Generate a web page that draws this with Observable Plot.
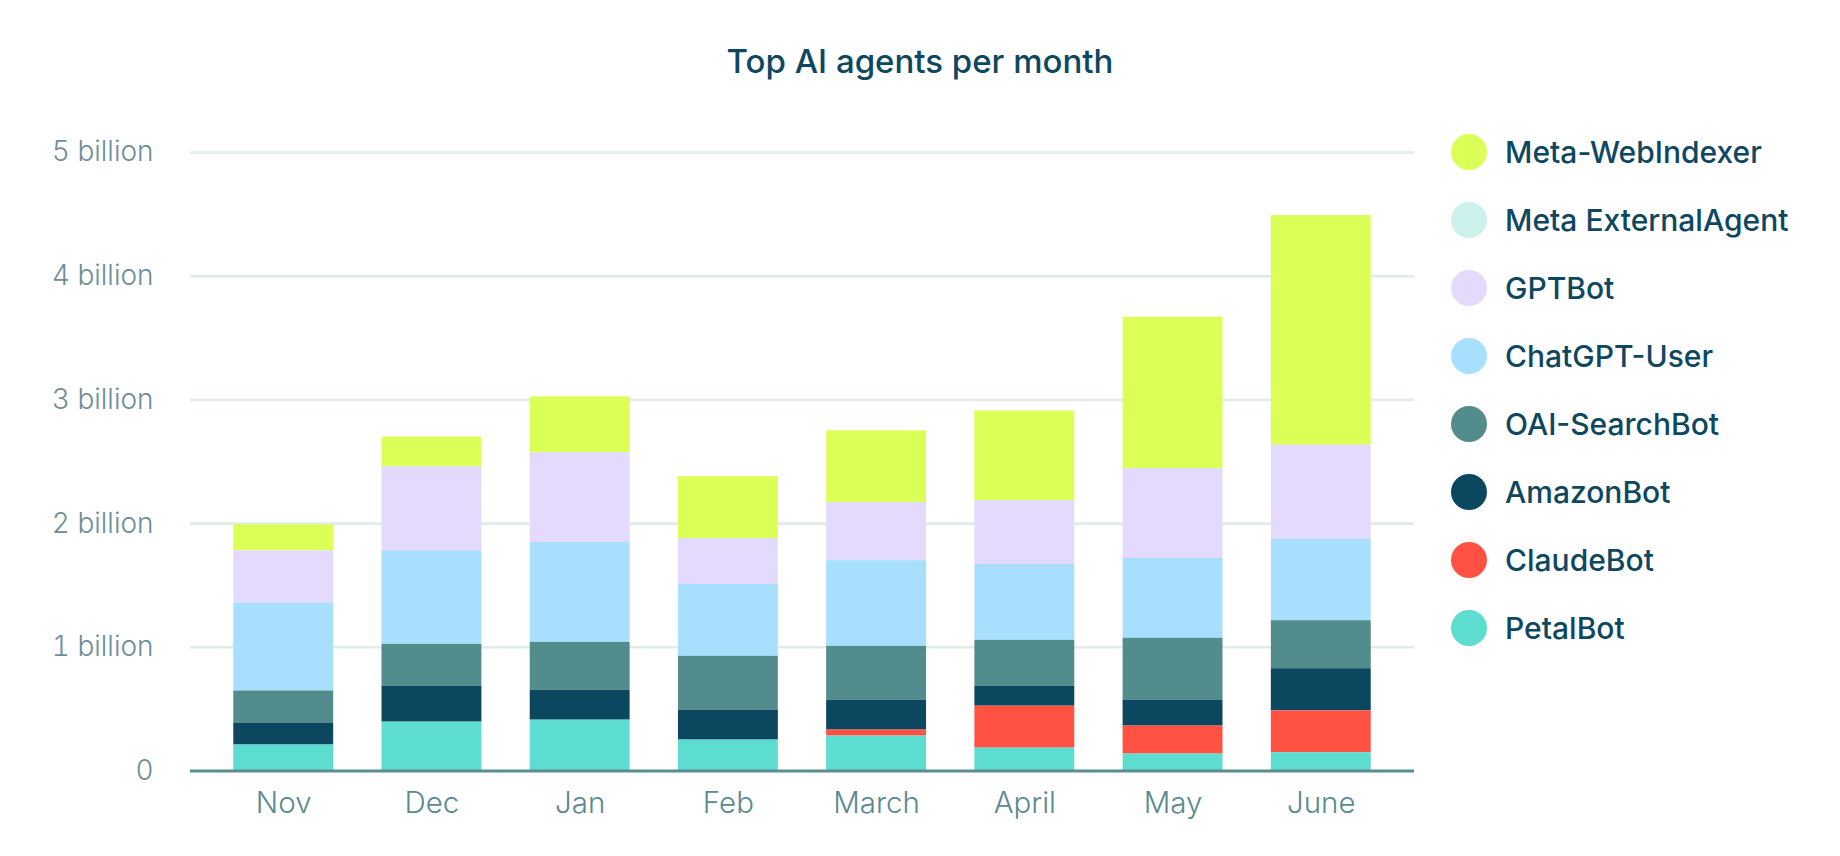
<!DOCTYPE html>
<html>
<head>
<meta charset="utf-8">
<script src="https://cdn.jsdelivr.net/npm/d3@7"></script>
<script src="https://cdn.jsdelivr.net/npm/@observablehq/plot@0.6"></script>
<style>
  html, body { margin: 0; padding: 0; background: #ffffff; }
  body { width: 1840px; height: 856px; position: relative; overflow: hidden; font-family: Inter, "Noto Sans", sans-serif; }
  #title { position: absolute; left: 0; width: 1840px; top: 45px; text-align: center; font-size: 33px; line-height: 33px; font-weight: 500; color: #0d4760; }
  #chart { position: absolute; left: 0; top: 100px; }
  #legend { position: absolute; left: 0; top: 0; }
  .item { position: absolute; left: 1451px; height: 36px; display: flex; align-items: center; white-space: nowrap; }
  .sw { width: 36px; height: 36px; border-radius: 50%; margin-right: 18px; flex: none; }
  .lab { font-size: 30px; font-weight: 500; color: #0d4760; }
</style>
</head>
<body>
<div id="title">Top AI agents per month</div>
<div id="chart"></div>
<div id="legend"></div>
<script>
// Categories
const months = ["Nov", "Dec", "Jan", "Feb", "March", "April", "May", "June"];
// Legend order (top to bottom)
const agents = ["Meta-WebIndexer", "Meta ExternalAgent", "GPTBot", "ChatGPT-User", "OAI-SearchBot", "AmazonBot", "ClaudeBot", "PetalBot"];
const colors = ["#dbff57", "#cdf2ee", "#e3dafd", "#a8defe", "#528c8c", "#0c4760", "#ff5242", "#5ddcd0"];

// Series values in billions, one per month
const metaWebIndexer    = [0.21, 0.24, 0.451, 0.50, 0.581, 0.726, 1.225, 1.856];
const metaExternalAgent = [0, 0, 0, 0, 0, 0, 0, 0];
const gptBot            = [0.422, 0.68, 0.726, 0.371, 0.469, 0.516, 0.726, 0.759];
const chatGPTUser       = [0.711, 0.756, 0.807, 0.581, 0.692, 0.613, 0.645, 0.66];
const oaiSearchBot      = [0.259, 0.339, 0.387, 0.435, 0.435, 0.371, 0.50, 0.388];
const amazonBot         = [0.178, 0.29, 0.242, 0.242, 0.242, 0.161, 0.21, 0.341];
const claudeBot         = [0, 0, 0, 0, 0.049, 0.339, 0.226, 0.338];
const petalBot          = [0.21, 0.395, 0.411, 0.25, 0.282, 0.185, 0.137, 0.148];

// Y tick values
const yTicks = [0, 1e9, 2e9, 3e9, 4e9, 5e9];

const seriesValues = {
  "Meta-WebIndexer": metaWebIndexer,
  "Meta ExternalAgent": metaExternalAgent,
  "GPTBot": gptBot,
  "ChatGPT-User": chatGPTUser,
  "OAI-SearchBot": oaiSearchBot,
  "AmazonBot": amazonBot,
  "ClaudeBot": claudeBot,
  "PetalBot": petalBot
};

const table = [];
for (const agent of agents) {
  seriesValues[agent].forEach((v, i) => table.push({month: months[i], agent, value: v * 1e9}));
}
const stackOrder = agents.slice().reverse(); // bottom first

const chart = Plot.plot({
  width: 1840,
  height: 740,
  marginLeft: 190,
  marginRight: 426,
  marginTop: 52,
  marginBottom: 69.5,
  style: {fontFamily: "Inter, 'Noto Sans', sans-serif", fontSize: "28px", background: "transparent", overflow: "visible"},
  x: {domain: months, paddingInner: 0.326, paddingOuter: 0.292, round: false, label: null},
  y: {domain: [0, 5e9], label: null},
  color: {domain: agents, range: colors},
  marks: [
    Plot.gridY(yTicks.filter(d => d > 0), {stroke: "#e1ebea", strokeOpacity: 1, strokeWidth: 2.6}),
    Plot.barY(table, {x: "month", y: "value", fill: "agent", order: stackOrder}),
    Plot.ruleY([0], {stroke: "#5b8e92", strokeWidth: 3}),
    Plot.axisY({ticks: yTicks, tickSize: 0, tickPadding: 37, tickFormat: d => d === 0 ? "0" : `${d / 1e9} billion`, fill: "#6f8d9a", fontSize: 28, fontWeight: 300, label: null}),
    Plot.axisX({tickSize: 0, tickPadding: 21, fill: "#5a8a8f", fontSize: 29.5, fontWeight: 300, label: null})
  ]
});
document.getElementById("chart").appendChild(chart);

// Legend
const legend = document.getElementById("legend");
agents.forEach((a, i) => {
  const item = document.createElement("div");
  item.className = "item";
  item.style.top = (152 + i * 68 - 18) + "px";
  const sw = document.createElement("div");
  sw.className = "sw";
  sw.style.background = colors[i];
  const lab = document.createElement("span");
  lab.className = "lab";
  lab.textContent = a;
  item.appendChild(sw);
  item.appendChild(lab);
  legend.appendChild(item);
});
</script>
</body>
</html>
